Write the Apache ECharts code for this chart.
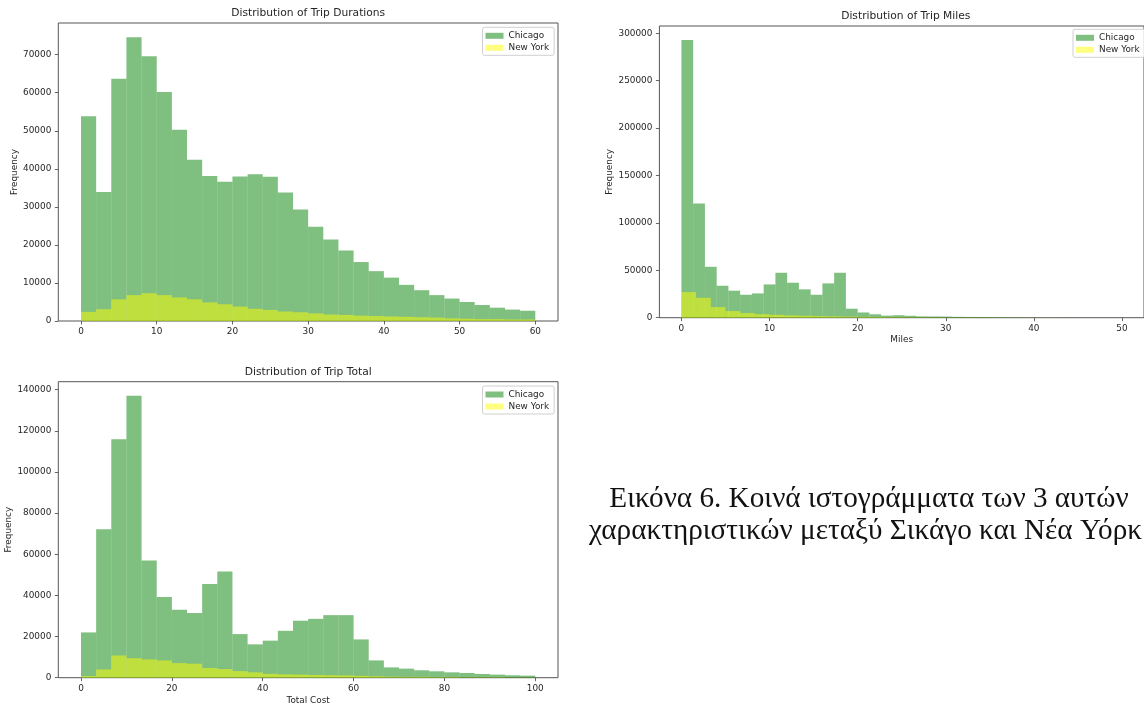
<!DOCTYPE html>
<html>
<head>
<meta charset="utf-8">
<script src="https://cdn.jsdelivr.net/npm/echarts@6/dist/echarts.min.js"></script>
<style>
html,body{margin:0;padding:0;background:#fff;}
#chart{width:1144px;height:706px;}
</style>
</head>
<body>
<div id="chart"></div>
<script>
// ---------- data ----------
const seriesNames = ['Chicago', 'New York'];

// Trip durations: 30 bins of width 2 over 0-60
const durBinWidth = 2;
const durChicago = [53800, 33900, 63700, 74600, 69600, 60200, 50300, 42400, 38100, 36600,
  38000, 38600, 37900, 33800, 29300, 24800, 21400, 18500, 15500, 13100,
  11400, 9500, 8100, 6800, 5900, 5000, 4200, 3500, 3000, 2700];
const durNewYork = [2400, 3100, 5700, 6800, 7300, 6800, 6200, 5700, 4900, 4400,
  3800, 3200, 2900, 2500, 2300, 2000, 1700, 1600, 1400, 1300,
  1200, 1100, 1000, 900, 700, 600, 500, 500, 400, 400];

// Trip miles: Chicago 30 bins over 0-40, New York 30 bins over 0-50
const milesChicagoBinWidth = 40 / 30;
const milesNewYorkBinWidth = 50 / 30;
const milesChicago = [293000, 120500, 53700, 33700, 28500, 24200, 25600, 35100, 47400, 36900,
  29900, 24200, 36200, 47400, 9500, 5500, 3600, 2200, 2600, 2000,
  1400, 1300, 1200, 900, 800, 700, 600, 500, 300, 200];
const milesNewYork = [27000, 21000, 11200, 7000, 4900, 3700, 3000, 2400, 2000, 1700,
  1400, 1100, 900, 700, 600, 500, 400, 350, 300, 250,
  200, 200, 150, 100, 100, 100, 50, 50, 50, 50];

// Trip total: 30 bins over 0-100
const totalBinWidth = 100 / 30;
const totalChicago = [22000, 72200, 115900, 137000, 57000, 39200, 33000, 31400, 45500, 51600,
  21200, 16200, 18000, 22800, 27700, 28600, 30400, 30400, 18600, 8400,
  5000, 4400, 3600, 3100, 2600, 2300, 1800, 1500, 1200, 1000];
const totalNewYork = [800, 4000, 10800, 9500, 8900, 8400, 7100, 6800, 4700, 4200,
  3200, 2600, 1900, 1600, 1500, 1300, 1200, 1100, 900, 700,
  500, 400, 400, 300, 300, 200, 200, 200, 100, 100];

// tick labels
const durXTicks = [0, 10, 20, 30, 40, 50, 60];
const durYTicks = [0, 10000, 20000, 30000, 40000, 50000, 60000, 70000];
const milesXTicks = [0, 10, 20, 30, 40, 50];
const milesYTicks = [0, 50000, 100000, 150000, 200000, 250000, 300000];
const totalXTicks = [0, 20, 40, 60, 80, 100];
const totalYTicks = [0, 20000, 40000, 60000, 80000, 100000, 120000, 140000];

const titles = ['Distribution of Trip Durations', 'Distribution of Trip Miles', 'Distribution of Trip Total'];
const captionLines = ['Εικόνα 6. Κοινά ιστογράμματα των 3 αυτών', 'χαρακτηριστικών μεταξύ Σικάγο και Νέα Υόρκ'];

// ---------- styling ----------
const FONT = 'DejaVu Sans';
const txt = '#262626';
const spine = '#555';
const colChicago = 'rgba(0,128,0,0.5)';
const colNewYork = 'rgba(255,255,0,0.5)';

function bins(counts, w) { return counts.map((c, i) => [i * w, (i + 1) * w, c]); }
function maxOf(a, b) { return Math.max.apply(null, a.concat(b)); }

function renderItem(params, api) {
  const p0 = api.coord([api.value(0), api.value(2)]);
  const p1 = api.coord([api.value(1), 0]);
  return {
    type: 'rect',
    shape: { x: p0[0], y: p0[1], width: p1[0] - p0[0], height: p1[1] - p0[1] },
    style: { fill: api.visual('color') }
  };
}

const grids = [
  { left: 58.3, top: 23, width: 499.7, height: 298 },
  { left: 659.4, top: 26, width: 492.8, height: 291.7 },
  { left: 58.3, top: 381.7, width: 499.7, height: 296 }
];

function plain(v) { return String(v); }

function xAxis(idx, min, max, ticks, name, gap) {
  return {
    type: 'value', gridIndex: idx, min: min, max: max,
    name: name || '', nameLocation: 'middle', nameGap: gap || 18,
    nameTextStyle: { fontFamily: FONT, fontSize: 8.9, color: txt },
    axisLine: { show: false, onZero: false },
    splitLine: { show: false },
    axisTick: { show: true, inside: false, length: 3.5, customValues: ticks, lineStyle: { color: spine, width: 0.9 } },
    axisLabel: { customValues: ticks, formatter: plain, margin: 6, fontFamily: FONT, fontSize: 8.9, color: txt }
  };
}
function yAxis(idx, max, ticks, gap) {
  return {
    type: 'value', gridIndex: idx, min: 0, max: max,
    name: 'Frequency', nameLocation: 'middle', nameGap: gap, nameRotate: 90,
    nameTextStyle: { fontFamily: FONT, fontSize: 8.9, color: txt },
    axisLine: { show: false, onZero: false },
    splitLine: { show: false },
    axisTick: { show: true, inside: false, length: 3.5, customValues: ticks, lineStyle: { color: spine, width: 0.9 } },
    axisLabel: { customValues: ticks, formatter: plain, margin: 7, fontFamily: FONT, fontSize: 8.9, color: txt }
  };
}

function legend(left, top) {
  return {
    data: seriesNames, orient: 'vertical', left: left, top: top,
    icon: 'rect', itemWidth: 18, itemHeight: 6, itemGap: 3,
    padding: [4, 5, 3, 3],
    borderColor: '#d0d0d0', borderWidth: 1, borderRadius: 2,
    backgroundColor: 'rgba(255,255,255,0.8)',
    selectedMode: false,
    textStyle: { fontFamily: FONT, fontSize: 8.9, color: txt }
  };
}

function hist(name, idx, data, color) {
  return {
    type: 'custom', name: name, xAxisIndex: idx, yAxisIndex: idx,
    renderItem: renderItem, data: data,
    itemStyle: { color: color },
    encode: { x: [0, 1], y: 2 },
    silent: true, animation: false
  };
}

const option = {
  animation: false,
  backgroundColor: '#fff',
  grid: grids.map(g => Object.assign({ show: true, borderColor: spine, borderWidth: 1, backgroundColor: 'transparent' }, g)),
  xAxis: [
    xAxis(0, -3, 63, durXTicks),
    xAxis(1, -2.5, 52.5, milesXTicks, 'Miles', 17),
    xAxis(2, -5, 105, totalXTicks, 'Total Cost', 18)
  ],
  yAxis: [
    yAxis(0, maxOf(durChicago, durNewYork) * 1.05, durYTicks, 39),
    yAxis(1, maxOf(milesChicago, milesNewYork) * 1.05, milesYTicks, 41),
    yAxis(2, maxOf(totalChicago, totalNewYork) * 1.05, totalYTicks, 40)
  ],
  legend: [legend(482.5, 27.3), legend(1073, 29.3), legend(482.5, 386)],
  series: [
    hist('Chicago', 0, bins(durChicago, durBinWidth), colChicago),
    hist('New York', 0, bins(durNewYork, durBinWidth), colNewYork),
    hist('Chicago', 1, bins(milesChicago, milesChicagoBinWidth), colChicago),
    hist('New York', 1, bins(milesNewYork, milesNewYorkBinWidth), colNewYork),
    hist('Chicago', 2, bins(totalChicago, totalBinWidth), colChicago),
    hist('New York', 2, bins(totalNewYork, totalBinWidth), colNewYork)
  ],
  graphic: [
    { type: 'text', x: 308.2, y: 13.3, style: { text: titles[0], textAlign: 'center', textVerticalAlign: 'middle', font: '10.7px "DejaVu Sans"', fill: txt } },
    { type: 'text', x: 905.8, y: 16.7, style: { text: titles[1], textAlign: 'center', textVerticalAlign: 'middle', font: '10.7px "DejaVu Sans"', fill: txt } },
    { type: 'text', x: 308.2, y: 372.3, style: { text: titles[2], textAlign: 'center', textVerticalAlign: 'middle', font: '10.7px "DejaVu Sans"', fill: txt } },
    { type: 'text', x: 869, y: 485, style: { text: captionLines[0], textAlign: 'center', textVerticalAlign: 'alphabetic', font: '29.2px "Liberation Serif"', fill: '#111' } },
    { type: 'text', x: 589, y: 517, style: { text: captionLines[1], textAlign: 'left', textVerticalAlign: 'alphabetic', font: '29.2px "Liberation Serif"', fill: '#111' } }
  ]
};

const chart = echarts.init(document.getElementById('chart'), null, { renderer: 'canvas' });
chart.setOption(option);
</script>
</body>
</html>
